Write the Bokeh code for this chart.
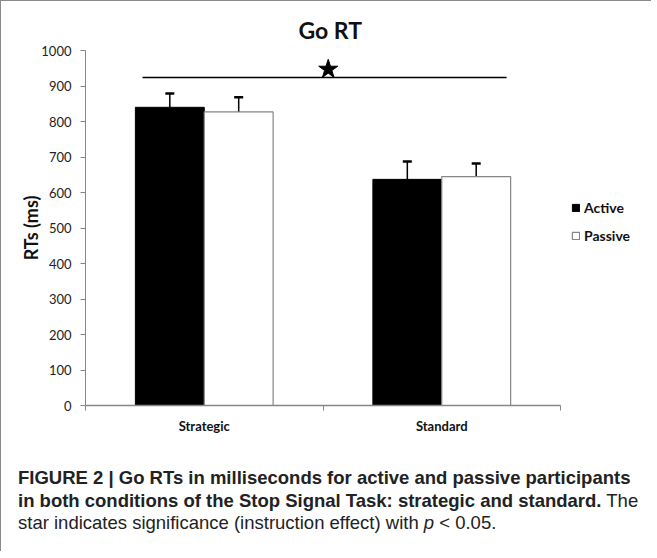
from bokeh.plotting import figure
from bokeh.models import (ColumnDataSource, Whisker, TeeHead, FixedTicker, Legend,
                          LegendItem, Div, Range1d)
from bokeh.layouts import column
from bokeh.embed import file_html
from bokeh.resources import INLINE

# ---- data ----
conditions = ["Strategic", "Standard"]
groups = ["Active", "Passive"]
active_rt = [840, 637]
passive_rt = [827, 645]
active_err = [39, 50]
passive_err = [41, 37]
y_ticks = [0, 100, 200, 300, 400, 500, 600, 700, 800, 900, 1000]
title_text = "Go RT"
y_label = "RTs (ms)"
sig_from = 0.24
sig_to = 1.773
sig_y = 924
star_x = 1.022
star_y = 947
caption_html = ("<b>FIGURE 2 | Go RTs in milliseconds for active and passive participants<br>"
                "in both conditions of the Stop Signal Task: strategic and standard.</b> The<br>"
                "star indicates significance (instruction effect) with <i>p</i> &lt; 0.05.")

CHART_FONT = "Lato"
GRAY = "#868686"
bar_w = 0.29
n = len(conditions)

centers = [i + 0.5 for i in range(n)]
src_a = ColumnDataSource(dict(
    x=[c - bar_w / 2 for c in centers], top=active_rt,
    upper=[v + e for v, e in zip(active_rt, active_err)]))
src_p = ColumnDataSource(dict(
    x=[c + bar_w / 2 for c in centers], top=passive_rt,
    upper=[v + e for v, e in zip(passive_rt, passive_err)]))

# frame extends to the right so the legend can sit beside the bars;
# the x axis itself is bounded to the category span
p = figure(width=640, height=445, x_range=Range1d(0, n * 1.1705), y_range=(0, 1000),
           output_backend="svg", toolbar_location=None,
           min_border_left=84, min_border_right=0, min_border_top=49, min_border_bottom=41,
           background_fill_color="white", border_fill_color="white")
p.outline_line_color = None
p.grid.visible = False

r_a = p.vbar(x="x", top="top", width=bar_w, bottom=0, source=src_a,
             fill_color="#000000", line_color="#000000", line_width=1)
r_p = p.vbar(x="x", top="top", width=bar_w, bottom=0, source=src_p,
             fill_color="#ffffff", line_color=GRAY, line_width=1.2)

for src in (src_a, src_p):
    w = Whisker(source=src, base="x", lower="top", upper="upper",
                line_color="black", line_width=1.5,
                upper_head=TeeHead(size=9, line_width=2.5, line_color="black"),
                lower_head=None)
    p.add_layout(w)

p.line(x=[sig_from, sig_to], y=[sig_y, sig_y], line_color="black", line_width=1.5)
p.scatter(x=[star_x], y=[star_y], marker="star", size=20, color="black")

# title (centred over the category span)
p.title.text = title_text
p.title.align = "left"
p.title.offset = 213
p.title.standoff = 13
p.title.text_font = CHART_FONT
p.title.text_font_size = "23px"
p.title.text_font_style = "bold"
p.title.text_color = "#111111"

# y axis
ya = p.yaxis[0]
ya.ticker = FixedTicker(ticks=y_ticks)
ya.axis_line_color = GRAY
ya.major_tick_line_color = GRAY
ya.major_tick_out = 5
ya.major_tick_in = 0
ya.minor_tick_line_color = None
ya.major_label_text_font = CHART_FONT
ya.major_label_text_font_size = "13px"
ya.major_label_text_color = "#222222"
ya.major_label_standoff = 9
ya.axis_label = y_label
ya.axis_label_text_font = CHART_FONT
ya.axis_label_text_font_size = "18px"
ya.axis_label_text_font_style = "bold"
ya.axis_label_text_color = "#111111"
ya.axis_label_standoff = -4

# x axis
xa = p.xaxis[0]
xa.bounds = (0, n)
xa.ticker = FixedTicker(ticks=centers, minor_ticks=list(range(n + 1)))
xa.major_label_overrides = {c: nm for c, nm in zip(centers, conditions)}
xa.axis_line_color = GRAY
xa.axis_line_width = 1.5
xa.major_tick_line_color = None
xa.minor_tick_line_color = GRAY
xa.minor_tick_out = 5
xa.minor_tick_in = 0
xa.major_label_text_font = CHART_FONT
xa.major_label_text_font_size = "13px"
xa.major_label_text_font_style = "bold"
xa.major_label_text_color = "#111111"
xa.major_label_standoff = 6

legend = Legend(items=[LegendItem(label=groups[0], renderers=[r_a]),
                       LegendItem(label=groups[1], renderers=[r_p])],
                location=(486, 160), orientation="vertical")
legend.glyph_width = 9
legend.glyph_height = 9
legend.label_height = 20
legend.spacing = 8
legend.padding = 0
legend.margin = 0
legend.label_standoff = 4
legend.border_line_color = None
legend.background_fill_alpha = 0
legend.label_text_font = CHART_FONT
legend.label_text_font_size = "14px"
legend.label_text_font_style = "bold"
legend.label_text_color = "#111111"
p.add_layout(legend)

cap = Div(text=caption_html, width=640, height=95,
          styles={"font-family": "'Liberation Sans Narrow', 'Liberation Sans', sans-serif",
                  "font-size": "18.5px", "line-height": "22.5px", "color": "#222222",
                  "padding-top": "16px", "padding-left": "12px",
                  "white-space": "nowrap", "box-sizing": "border-box"})

layout = column(p, cap, styles={"border-left": "1px solid #8a8a8a",
                                "border-top": "1px solid #8a8a8a"})

open("out.html", "w").write(file_html(layout, INLINE))
